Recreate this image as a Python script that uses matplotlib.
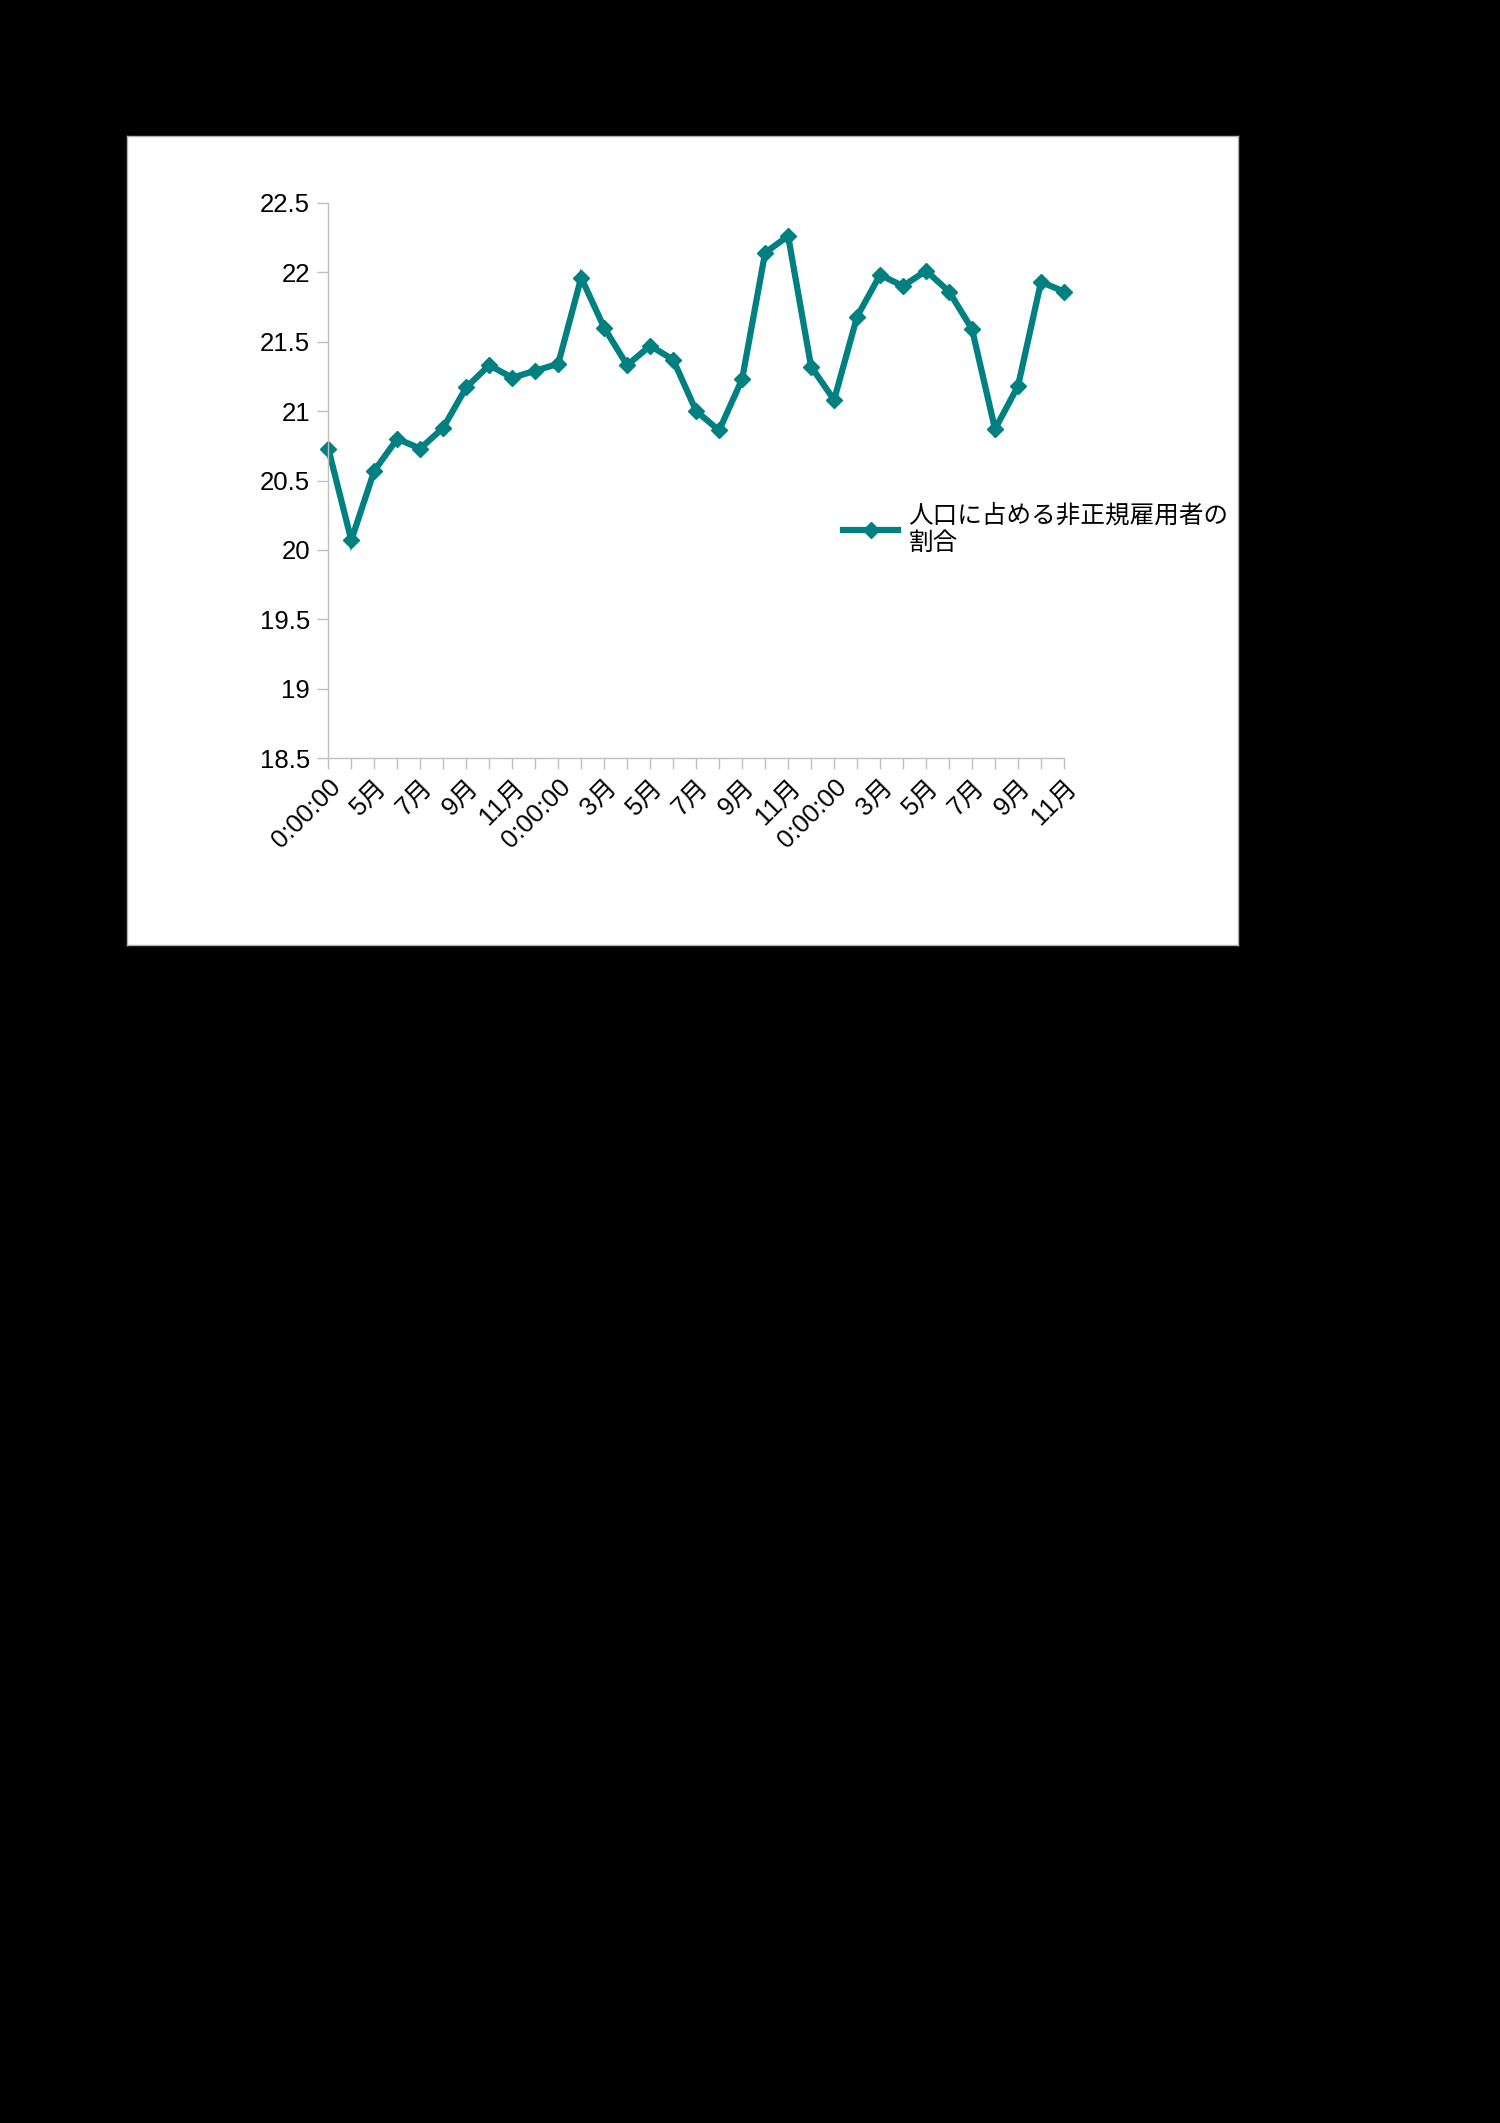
import matplotlib
matplotlib.use("Agg")
import matplotlib.pyplot as plt

# ---- data ----
tick_labels = ["0:00:00", "5月", "7月", "9月", "11月",
               "0:00:00", "3月", "5月", "7月", "9月", "11月",
               "0:00:00", "3月", "5月", "7月", "9月", "11月"]
values = [20.73, 20.07, 20.57, 20.80, 20.73, 20.88, 21.17, 21.33, 21.24, 21.29,
          21.34, 21.96, 21.60, 21.33, 21.47, 21.37, 21.00, 20.86, 21.23, 22.14,
          22.26, 21.32, 21.08, 21.68, 21.98, 21.90, 22.01, 21.86, 21.59, 20.87,
          21.18, 21.93, 21.86]
series_name = "人口に占める非正規雇用者の\n割合"
y_ticks = [18.5, 19, 19.5, 20, 20.5, 21, 21.5, 22, 22.5]

W, H = 1500, 2123
DPI = 100
fig = plt.figure(figsize=(W / DPI, H / DPI), dpi=DPI)
fig.patch.set_facecolor("black")

# white chart area
bg = fig.add_axes([126.7 / W, 1 - 945 / H, (1238 - 126.7) / W, (945 - 136) / H], zorder=-10)
bg.set_facecolor("white")
bg.set_xticks([]); bg.set_yticks([])
for s in bg.spines.values():
    s.set_color("#b0b0b0"); s.set_linewidth(1.0)

left, right = 328.3 / W, 1064 / W
top, bottom = 1 - 202.7 / H, 1 - 758.3 / H
ax = fig.add_axes([left, bottom, right - left, top - bottom], zorder=1)
ax.set_facecolor("none")

xs = list(range(len(values)))
ax.plot(xs, values, color="#008080", linewidth=4.5, marker="D", markersize=8.5,
        markeredgecolor="#008080", label=series_name, solid_joinstyle="miter",
        clip_on=False)

ax.set_xlim(0, len(values) - 1)
ax.set_ylim(18.5, 22.5)
ax.set_yticks(y_ticks)
ax.set_yticklabels([f"{v:g}" for v in y_ticks])

ax.set_xticks(xs)
labels = []
li = 0
for i in xs:
    if i % 2 == 0 and li < len(tick_labels):
        labels.append(tick_labels[li]); li += 1
    else:
        labels.append("")
ax.set_xticklabels(labels)

for s in ["top", "right"]:
    ax.spines[s].set_visible(False)
for s in ["left", "bottom"]:
    ax.spines[s].set_color("#c0c0c0")
    ax.spines[s].set_linewidth(1.0)

ax.tick_params(axis="both", direction="out", length=8, width=1.0, color="#c0c0c0",
               labelsize=18.5, labelcolor="black")
ax.tick_params(axis="y", pad=5)
ax.tick_params(axis="x", pad=4)

fam = ["Liberation Sans", "Noto Sans CJK JP", "DejaVu Sans"]
for lab in ax.get_yticklabels():
    lab.set_fontfamily(fam)
for lab in ax.get_xticklabels():
    lab.set_fontfamily(fam)
    lab.set_rotation(45)
    lab.set_ha("right")
    lab.set_va("top")
    lab.set_rotation_mode("anchor")

leg = ax.legend(loc="center left", bbox_to_anchor=(843 / W, 1 - 529 / H),
                bbox_transform=fig.transFigure, frameon=False,
                prop={"family": ["Noto Sans CJK JP", "DejaVu Sans"], "size": 17.7},
                handlelength=2.25, handletextpad=0.4, borderpad=0, borderaxespad=0,
                labelspacing=0)
for t in leg.get_texts():
    t.set_linespacing(1.05)

fig.savefig("out.png", dpi=DPI, facecolor=fig.get_facecolor())
